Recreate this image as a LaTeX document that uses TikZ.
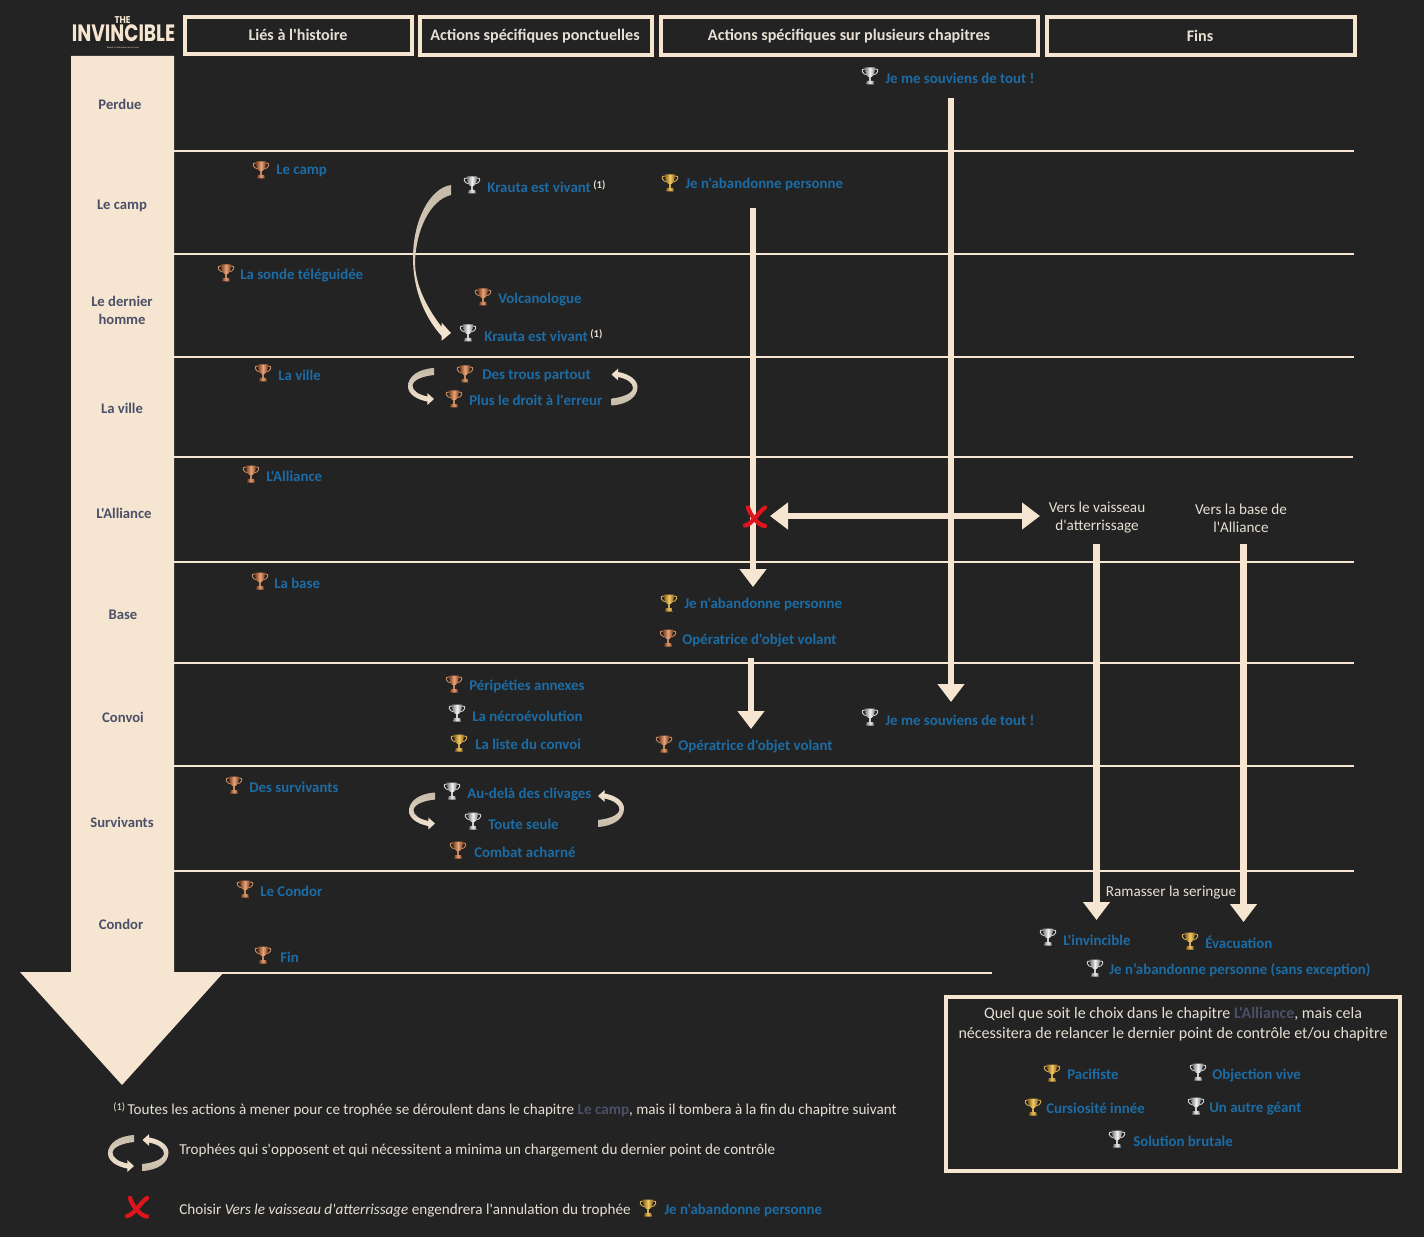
\documentclass[tikz,border=0pt]{standalone}
\usepackage{fontspec}
\usepackage{graphicx}
\setmainfont{Carlito}[Ligatures=TeXOff]
\newfontfamily\logofont{Poppins}[Ligatures=TeXOff]
\usetikzlibrary{arrows.meta}
\definecolor{bgc}{HTML}{232323}
\definecolor{cream}{HTML}{F6E6D1}
\definecolor{creamD}{HTML}{C4B9A8}
\definecolor{txtc}{HTML}{E6DFD4}
\definecolor{bluec}{HTML}{1C6CA5}
\definecolor{slate}{HTML}{4B5068}
\definecolor{redx}{HTML}{E0141C}
\definecolor{cbD}{HTML}{7C3F1E}\definecolor{cbL}{HTML}{E8A478}
\definecolor{csD}{HTML}{7E7E7E}\definecolor{csL}{HTML}{F2F2F2}
\definecolor{cgD}{HTML}{8F6418}\definecolor{cgL}{HTML}{F0C868}
\tikzset{
  x=0.75pt,y=-0.75pt,
  sep/.style={draw=cream,line width=1.5pt},
  headbox/.style={draw=cream,line width=2.6pt,fill=bgc},
  headtxt/.style={text=txtc,font=\fontsize{12.1}{14}\selectfont\bfseries,inner sep=0pt},
  chap/.style={text=slate,font=\fontsize{11}{13.5}\selectfont\bfseries,inner sep=0pt,align=center,yshift=-0.5pt},
  trname/.style={text=bluec,font=\fontsize{11.15}{13}\selectfont\bfseries,inner sep=0pt,anchor=west,yshift=-0.9pt},
  plain/.style={text=txtc,font=\fontsize{11.4}{13.5}\selectfont,inner sep=0pt,align=center},
  boxed/.style={text=txtc,font=\fontsize{12}{15}\selectfont,inner sep=0pt,align=center},
  legend/.style={text=txtc,font=\fontsize{11.35}{13}\selectfont,inner sep=0pt,anchor=west,yshift=-1pt},
  fat/.style={draw=cream,line width=5.2pt,-{Triangle[length=13.5pt,width=19.5pt]}},
  fatboth/.style={draw=cream,line width=5.2pt,{Triangle[length=13.5pt,width=19.5pt]}-{Triangle[length=13.5pt,width=19.5pt]}},
  curlL/.style={top color=creamD,bottom color=cream},
  curlR/.style={top color=cream,bottom color=creamD},
  pics/trophy/.style 2 args={code={
    \draw[#2!70!#1,line width=0.7pt] (-5,-7) .. controls (-10,-8) and (-8,-1) .. (-2.5,-1);
    \draw[#2!70!#1,line width=0.7pt] (5,-7) .. controls (10,-8) and (8,-1) .. (2.5,-1);
    \shade[left color=#1,right color=#1,middle color=#2] (-5,-8.5) .. controls (-5,-3) and (-3,1.5) .. (0,1.5) .. controls (3,1.5) and (5,-3) .. (5,-8.5) -- cycle;
    \fill[#2!70!#1] (-1,1) rectangle (1,5.5);
    \shade[left color=#1,right color=#1,middle color=#2] (-3.2,5) -- (3.2,5) -- (3.8,8.5) -- (-3.8,8.5) -- cycle;
  }},
  pics/curl/.style={code={
    \shade[#1] (13,-18.5) .. controls (-3,-17.5) and (-13,-10) .. (-13,0)
      .. controls (-13,7) and (-5,13) .. (6.3,15) -- (6.3,18.5) -- (13,12.5) -- (6.3,6.5) -- (6.3,10)
      .. controls (-3,8) and (-8.5,4) .. (-8.5,-1) .. controls (-8,-7) and (3,-10.5) .. (13,-11.5) -- cycle;
  }},
  pics/crossmark/.style={code={
    \draw[redx,line width=3.2pt,line cap=round] (-10,9) .. controls (-3,8) and (3,-4) .. (10,-9);
    \draw[redx,line width=3.2pt,line cap=round] (-7,-9) .. controls (-5,-2) and (3,9) .. (10,9.5);
  }},
}
\newcommand\Tro[7]{% id, kind, tx, ty, lx, ly, text
  \pic at (#3,#4) {trophy={c#2D}{c#2L}};
  \node[trname] (#1) at (#5,#6) {#7};
}
\newcommand\sone{{\color{txtc}\,\raisebox{0.5ex}{\fontsize{8}{8}\selectfont (1)}}}
\begin{document}
\begin{tikzpicture}
\useasboundingbox (0,0) rectangle (1424,1237);
\fill[bgc] (0,0) rectangle (1424,1237);

% timeline arrow
\fill[cream] (71,56) -- (174,56) -- (174,972) -- (224,972) -- (122,1085) -- (20,972) -- (71,972) -- cycle;

% separators
\foreach \yy/\xe in {151/1354,254/1354,357/1354,457/1353,562/1354,663/1354,766/1354,871/1354}
  \draw[sep] (174,\yy) -- (\xe,\yy);
\draw[sep] (174,973) -- (992,973);

% logo
\node[inner sep=0pt,text=cream] (logoA) at (122.5,20.5) {\resizebox{12pt}{5.2pt}{\logofont\bfseries THE}};
\node[inner sep=0pt,text=cream] (logoB) at (123.5,33.5) {\resizebox{77.5pt}{12.6pt}{\logofont\bfseries INVINCIBLE}};
\node[inner sep=0pt,text=cream] (logoC) at (123,48) {\resizebox{24pt}{!}{\logofont Based on Stanisław Lem's novel}};

% headers
\draw[headbox] (185,17) rectangle (412,54);
\draw[headbox] (420,17) rectangle (652,55);
\draw[headbox] (661,17) rectangle (1038,55);
\draw[headbox] (1047,17) rectangle (1355,55);
\node[headtxt] (h1) at (298,35) {Liés à l'histoire};
\node[headtxt] (h2) at (535,36) {Actions spécifiques ponctuelles};
\node[headtxt] (h3) at (849,36) {Actions spécifiques sur plusieurs chapitres};
\node[headtxt] (h4) at (1200,36) {Fins};

% chapters
\node[chap] (c1) at (120,104) {Perdue};
\node[chap] (c2) at (122,205) {Le camp};
\node[chap] (c3) at (122,310) {Le dernier\\homme};
\node[chap] (c4) at (122,408) {La ville};
\node[chap] (c5) at (124,513) {L'Alliance};
\node[chap] (c6) at (123,614) {Base};
\node[chap] (c7) at (123,717) {Convoi};
\node[chap] (c8) at (122,822) {Survivants};
\node[chap] (c9) at (121,924) {Condor};

% trophies
\Tro{t01}{s}{870}{76}{885}{77}{Je me souviens de tout !}
\Tro{t02}{b}{261}{170}{276}{170}{Le camp}
\Tro{t03}{s}{472}{185}{487}{185.5}{Krauta est vivant\sone}
\Tro{t04}{g}{670}{183}{685}{183}{Je n'abandonne personne}
\Tro{t05}{b}{226}{273}{240}{274}{La sonde téléguidée}
\Tro{t06}{b}{483}{297}{498}{298}{Volcanologue}
\Tro{t07}{s}{468}{333}{484}{334.5}{Krauta est vivant\sone}
\Tro{t08}{b}{263}{373}{278}{374}{La ville}
\Tro{t09}{b}{465}{374}{482}{375}{Des trous partout}
\Tro{t10}{b}{454}{399}{469}{399.5}{Plus le droit à l'erreur}
\Tro{t11}{b}{251}{474}{266}{475}{L'Alliance}
\Tro{t12}{b}{260}{581}{274}{582}{La base}
\Tro{t13}{g}{669}{603}{684}{603}{Je n'abandonne personne}
\Tro{t14}{b}{668}{638}{682}{639}{Opératrice d'objet volant}
\Tro{t15}{b}{454}{684}{469}{685}{Péripéties annexes}
\Tro{t16}{s}{457}{713}{472}{715}{La nécroévolution}
\Tro{t17}{g}{459}{743}{475}{743}{La liste du convoi}
\Tro{t18}{b}{664}{744}{678}{745}{Opératrice d'objet volant}
\Tro{t19}{s}{870}{717}{885}{719}{Je me souviens de tout !}
\Tro{t20}{b}{234}{785}{249}{786}{Des survivants}
\Tro{t21}{s}{452}{791}{467}{793}{Au-delà des clivages}
\Tro{t22}{s}{473}{821}{488}{823}{Toute seule}
\Tro{t23}{b}{458}{850}{474}{851}{Combat acharné}
\Tro{t24}{b}{245}{889}{260}{890}{Le Condor}
\Tro{t25}{b}{263}{955}{280}{956}{Fin}
\Tro{t26}{s}{1048}{937}{1063}{939}{L'invincible}
\Tro{t27}{g}{1190}{941}{1205}{941}{Évacuation}
\Tro{t28}{s}{1095}{968}{1109}{969}{Je n’abandonne personne (sans exception)}
\Tro{t29}{g}{1052}{1073}{1067}{1073}{Pacifiste}
\Tro{t30}{s}{1198}{1072}{1212}{1074}{Objection vive}
\Tro{t31}{g}{1033}{1107}{1046}{1107}{Cursiosité innée}
\Tro{t32}{s}{1196}{1106}{1209}{1107}{Un autre géant}
\Tro{t33}{s}{1117}{1139}{1133}{1140}{Solution brutale}

% end choices
\node[plain] (vaisseau) at (1097,518) {Vers le vaisseau\\d'atterrissage};
\node[plain] (basealli) at (1241,518) {Vers la base de\\l'Alliance};
\node[plain] (seringue) at (1171,893) {Ramasser la seringue};

% connector anchors
\coordinate (a1s) at (951,98);    \coordinate (a1e) at (951,702);
\coordinate (a2s) at (753,208);   \coordinate (a2e) at (753,587);
\coordinate (a3s) at (751,658);   \coordinate (a3e) at (751,729);
\coordinate (a4s) at (770,516);   \coordinate (a4e) at (1040,516);
\coordinate (a5s) at (1096.5,544);  \coordinate (a5e) at (1096.5,920);
\coordinate (a6s) at (1243.5,544);  \coordinate (a6e) at (1243.5,922);
\draw[fat] (a1s) -- (a1e);
\draw[fat] (a2s) -- (a2e);
\draw[fat] (a3s) -- (a3e);
\draw[fatboth] (a4s) -- (a4e);
\draw[fat] (a5s) -- (a5e);
\draw[fat] (a6s) -- (a6e);
\pic at (755,516.5) {crossmark};

% curved arrow Krauta
\shade[top color=creamD,bottom color=cream] (451,185)
  .. controls (430,188) and (413,220) .. (413,258)
  .. controls (413,290) and (425,318) .. (441.7,336)
  -- (441.7,340.7) -- (451,333) -- (441.7,322.7) -- (441.7,327)
  .. controls (427,308) and (415,285) .. (415,262)
  .. controls (416,230) and (430,200) .. (451,195) -- cycle;

% opposing curls
\pic at (421,386.5) {curl=curlL};
\pic at (624.5,387) [rotate=180] {curl=curlR};
\pic at (422,811) {curl=curlL};
\pic at (611,808.5) [rotate=180] {curl=curlR};
\pic at (121,1153.5) {curl=curlL};
\pic at (155.5,1152.5) [rotate=180] {curl=curlR};

% box
\draw[draw=cream,line width=2.6pt] (946,997) rectangle (1400,1171);
\node[boxed] (boxtxt) at (1173,1024) {Quel que soit le choix dans le chapitre {\bfseries\color{slate}L'Alliance}, mais cela\\nécessitera de relancer le dernier point de contrôle et/ou chapitre};

% legend
\node[legend] (leg1) at (113,1108.5) {\raisebox{0.5ex}{\fontsize{8}{8}\selectfont (1)}\,Toutes les actions à mener pour ce trophée se déroulent dans le chapitre {\bfseries\color{slate}Le camp}, mais il tombera à la fin du chapitre suivant};
\node[legend] (leg2) at (179,1149) {Trophées qui s'opposent et qui nécessitent a minima un chargement du dernier point de contrôle};
\pic at (137,1207) {crossmark};
\node[legend] (leg3) at (179,1209) {Choisir \textit{Vers le vaisseau d'atterrissage} engendrera l'annulation du trophée};
\Tro{t34}{g}{648}{1208}{664}{1209}{Je n'abandonne personne}
\end{tikzpicture}
\end{document}
